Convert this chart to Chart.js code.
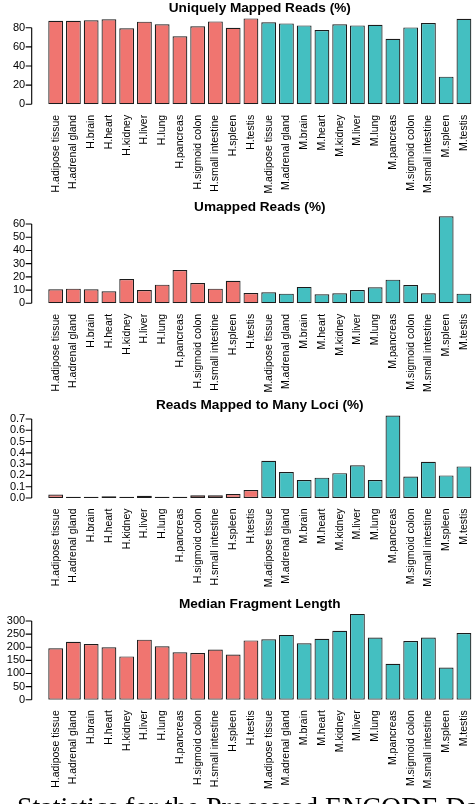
<!DOCTYPE html>
<html>
<head>
<meta charset="utf-8">
<title>ENCODE processed data statistics</title>
<script src="https://cdn.jsdelivr.net/npm/chart.js@4.4.1/dist/chart.umd.min.js"></script>
<style>
  html, body { margin: 0; padding: 0; background: #fff; overflow: hidden; }
  #page { position: relative; width: 475px; height: 804px; overflow: hidden; }
  #page canvas { position: absolute; left: 0; }
  #caption {
    position: absolute; left: 17px; top: 793px;
    font-family: "Liberation Serif", "DejaVu Serif", serif;
    font-size: 28px; line-height: 28px; white-space: nowrap; color: #000;
  }
</style>
</head>
<body>
<div id="page">
  <div id="caption">Statistics for the Processed ENCODE Data</div>
</div>
<script>
// Samples: 12 human (H.) and 12 mouse (M.) tissues
const categories = [
  'H.adipose tissue', 'H.adrenal gland', 'H.brain', 'H.heart', 'H.kidney', 'H.liver',
  'H.lung', 'H.pancreas', 'H.sigmoid colon', 'H.small intestine', 'H.spleen', 'H.testis',
  'M.adipose tissue', 'M.adrenal gland', 'M.brain', 'M.heart', 'M.kidney', 'M.liver',
  'M.lung', 'M.pancreas', 'M.sigmoid colon', 'M.small intestine', 'M.spleen', 'M.testis'
];

const uniquelyMapped = [87.3, 87.3, 87.7, 88.7, 79.3, 86.3, 83.5, 71.0, 81.4, 86.6, 80.0, 89.7,
                        85.6, 84.5, 82.4, 77.6, 83.5, 82.4, 83.1, 68.5, 80.3, 84.9, 28.9, 89.4];
const unmapped = [10.6, 11.1, 10.6, 9.1, 18.4, 10.1, 14.1, 25.2, 15.4, 11.1, 17.1, 7.8,
                  8.3, 7.3, 12.4, 6.8, 7.6, 10.1, 12.1, 17.9, 13.9, 7.6, 65.8, 7.3];
const manyLoci = [0.03, 0.01, 0.01, 0.015, 0.01, 0.02, 0.01, 0.01, 0.025, 0.025, 0.035, 0.07,
                  0.33, 0.23, 0.16, 0.18, 0.22, 0.29, 0.16, 0.73, 0.19, 0.32, 0.20, 0.28];
const fragmentLength = [196, 221, 212, 200, 165, 229, 204, 181, 178, 191, 172, 226,
                        230, 247, 215, 232, 263, 327, 237, 137, 224, 237, 123, 254];

const ticksUnique = [0, 20, 40, 60, 80];
const ticksUnmapped = [0, 10, 20, 30, 40, 50, 60];
const ticksLoci = [0, 0.1, 0.2, 0.3, 0.4, 0.5, 0.6, 0.7];
const ticksLociLabels = ['0.0', '0.1', '0.2', '0.3', '0.4', '0.5', '0.6', '0.7'];
const ticksFragment = [0, 50, 100, 150, 200, 250, 300];

const humanColor = 'rgb(240,117,112)';
const mouseColor = 'rgb(68,191,193)';

// Panel geometry: canvas top/height, chart-area top, zero line (local px), y max
const panels = [
  { title: 'Uniquely Mapped Reads (%)', values: uniquelyMapped, ticks: ticksUnique,
    labels: ticksUnique.map(String), top: 0, height: 198, areaTop: 14.3, zero: 104.3, max: 94.0, titleY: 12.3 },
  { title: 'Umapped Reads (%)', values: unmapped, ticks: ticksUnmapped,
    labels: ticksUnmapped.map(String), top: 198, height: 199, areaTop: 15.3, zero: 105.3, max: 68.09, titleY: 12.5 },
  { title: 'Reads Mapped to Many Loci (%)', values: manyLoci, ticks: ticksLoci,
    labels: ticksLociLabels, top: 397, height: 199, areaTop: 11, zero: 101, max: 0.797, titleY: 12 },
  { title: 'Median Fragment Length', values: fragmentLength, ticks: ticksFragment,
    labels: ticksFragment.map(String), top: 596, height: 197, areaTop: 13.7, zero: 103.7, max: 343.1, titleY: 12 }
];

const page = document.getElementById('page');

panels.forEach((cfg, idx) => {
  const canvas = document.createElement('canvas');
  canvas.width = 475;
  canvas.height = cfg.height;
  canvas.style.top = cfg.top + 'px';
  canvas.style.width = '475px';
  canvas.style.height = cfg.height + 'px';
  page.insertBefore(canvas, document.getElementById('caption'));

  // Base-graphics style y axis: line spans first to last tick, set left of the bars
  const sideAxis = {
    id: 'sideAxis' + idx,
    afterDraw(chart) {
      const y = chart.scales.y;
      const ctx = chart.ctx;
      const ax = chart.chartArea.left - 15.1;
      ctx.save();
      ctx.strokeStyle = '#000';
      ctx.lineWidth = 1.1;
      ctx.beginPath();
      ctx.moveTo(ax, y.getPixelForValue(cfg.ticks[0]));
      ctx.lineTo(ax, y.getPixelForValue(cfg.ticks[cfg.ticks.length - 1]));
      cfg.ticks.forEach(v => {
        const py = y.getPixelForValue(v);
        ctx.moveTo(ax - 6, py);
        ctx.lineTo(ax, py);
      });
      ctx.stroke();
      ctx.fillStyle = '#000';
      ctx.font = '11px "Liberation Sans", Arial, sans-serif';
      ctx.textAlign = 'right';
      ctx.textBaseline = 'middle';
      cfg.ticks.forEach((v, i) => {
        ctx.fillText(cfg.labels[i], ax - 6.5, y.getPixelForValue(v));
      });
      // panel heading centred over the plotting region
      ctx.font = 'bold 13.6px "Liberation Sans", Arial, sans-serif';
      ctx.textAlign = 'center';
      ctx.textBaseline = 'alphabetic';
      ctx.fillText(cfg.title, (chart.chartArea.left + chart.chartArea.right) / 2, cfg.titleY);
      ctx.restore();
    }
  };

  new Chart(canvas, {
    type: 'bar',
    data: {
      labels: categories,
      datasets: [{
        data: cfg.values,
        backgroundColor: categories.map(c => c.startsWith('H.') ? humanColor : mouseColor),
        borderColor: '#1c1c1c',
        borderWidth: 1.2,
        borderSkipped: false,
        barPercentage: 1 / 1.2,
        categoryPercentage: 1
      }]
    },
    options: {
      responsive: false,
      animation: false,
      devicePixelRatio: 1,
      layout: { padding: { left: 46.8, right: 2.2, top: cfg.areaTop, bottom: 0 } },
      plugins: {
        legend: { display: false },
        tooltip: { enabled: false },
        title: { display: false }
      },
      scales: {
        x: {
          grid: { display: false },
          border: { display: false },
          ticks: {
            autoSkip: false,
            minRotation: 90,
            maxRotation: 90,
            padding: 2.5,
            color: '#000',
            font: { family: '"Liberation Sans", Arial, sans-serif', size: 10.5 }
          },
          afterFit(scale) {
            // fixed label band height and no extra side padding for rotated labels
            scale.height = cfg.height - cfg.zero;
            scale.paddingLeft = 0;
            scale.paddingRight = 0;
          }
        },
        y: { display: false, min: 0, max: cfg.max }
      }
    },
    plugins: [sideAxis]
  });
});
</script>
</body>
</html>
